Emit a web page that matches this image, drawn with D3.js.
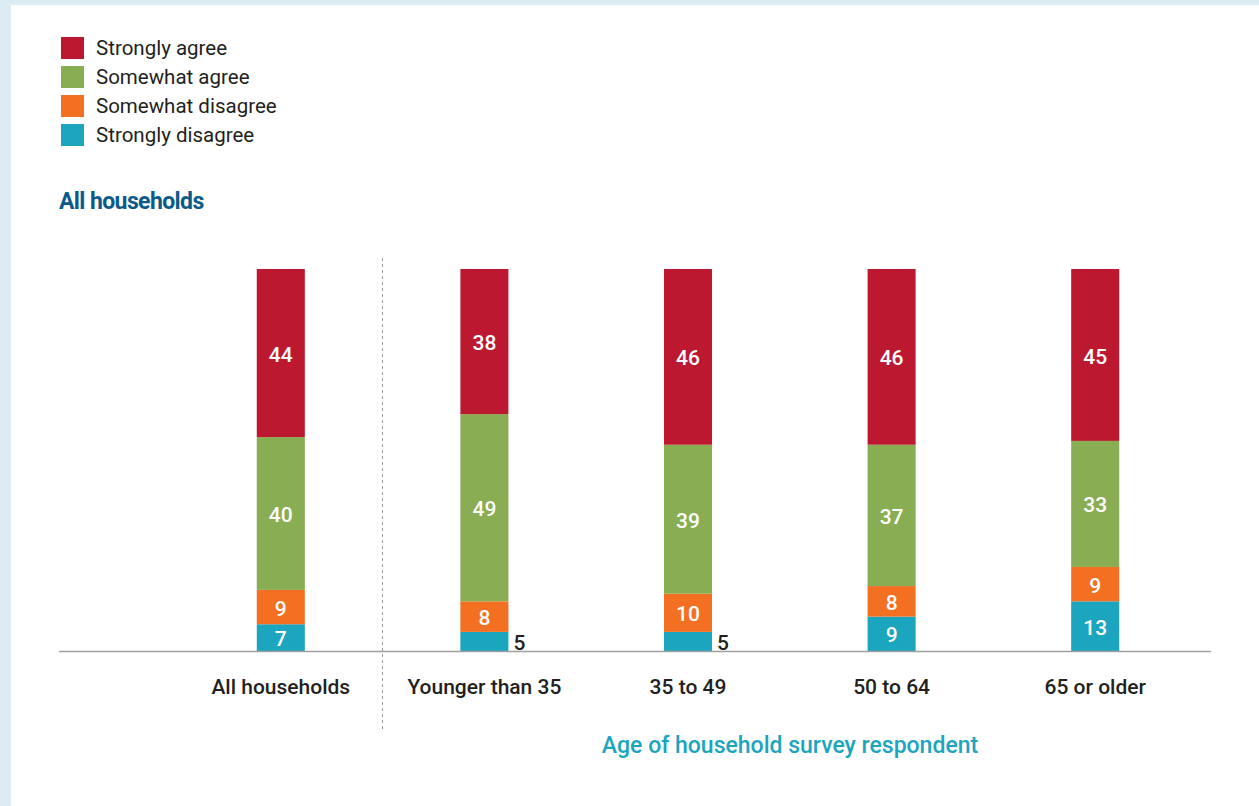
<!DOCTYPE html>
<html>
<head>
<meta charset="utf-8">
<script src="https://cdn.jsdelivr.net/npm/d3@7/dist/d3.min.js"></script>
<style>
  html, body { margin: 0; padding: 0; background: #ffffff; }
  svg { display: block; }
  text { font-family: Roboto, "Noto Sans", sans-serif; }
</style>
</head>
<body>
<svg id="chart" width="1259" height="806"></svg>
<script>
// Survey response shares (%) by group
const categories = ["All households", "Younger than 35", "35 to 49", "50 to 64", "65 or older"];
const seriesNames = ["Strongly disagree", "Somewhat disagree", "Somewhat agree", "Strongly agree"];
const stronglyDisagree = [7, 5, 5, 9, 13];
const somewhatDisagree = [9, 8, 10, 8, 9];
const somewhatAgree = [40, 49, 39, 37, 33];
const stronglyAgree = [44, 38, 46, 46, 45];
const legendOrder = ["Strongly agree", "Somewhat agree", "Somewhat disagree", "Strongly disagree"];
const colors = {
  "Strongly agree": "#bc1931",
  "Somewhat agree": "#88ad52",
  "Somewhat disagree": "#f37022",
  "Strongly disagree": "#1ba5be"
};

const rows = categories.map((c, i) => ({
  category: c,
  "Strongly disagree": stronglyDisagree[i],
  "Somewhat disagree": somewhatDisagree[i],
  "Somewhat agree": somewhatAgree[i],
  "Strongly agree": stronglyAgree[i]
}));

const svg = d3.select("#chart");
const W = 1259, H = 806;

// light frame along top and left edges
svg.append("rect").attr("x", 0).attr("y", 0).attr("width", W).attr("height", H).attr("fill", "#ddecf2");
svg.append("rect").attr("x", 11).attr("y", 5).attr("width", W - 11).attr("height", H - 5).attr("fill", "#ffffff");

// legend
const legend = svg.append("g").attr("transform", "translate(61,37)");
legendOrder.forEach((name, i) => {
  const g = legend.append("g").attr("transform", `translate(0,${i * 29})`);
  g.append("rect").attr("width", 23).attr("height", 22).attr("fill", colors[name]);
  g.append("text").attr("x", 35).attr("y", 11).attr("dy", "0.36em")
    .style("font-size", "20.5px").style("fill", "#231f20")
    .text(name);
});

// section heading
svg.append("text").attr("x", 59).attr("y", 209)
  .style("font-size", "23px").style("font-weight", "bold").style("fill", "#0c5a8a")
  .style("letter-spacing", "-0.6px")
  .text("All households");

// scales
const baseY = 651, topY = 269;
const y = d3.scaleLinear().domain([0, 100]).range([baseY, topY]);
const x = d3.scaleBand().domain(categories).range([179, 1197]).paddingInner(0.764).paddingOuter(0.382);

const stacked = d3.stack().keys(seriesNames)(rows);

// bars
const layers = svg.append("g").selectAll("g").data(stacked).join("g")
  .attr("fill", d => colors[d.key]);
layers.selectAll("rect").data(d => d).join("rect")
  .attr("x", d => x(d.data.category))
  .attr("y", d => y(d[1]))
  .attr("width", x.bandwidth())
  .attr("height", d => y(d[0]) - y(d[1]));

// value labels: inside the segment, or beside the bar when the segment is thin
const labelG = svg.append("g");
stacked.forEach(layer => {
  layer.forEach(d => {
    const v = d[1] - d[0];
    const inside = v > 5;
    labelG.append("text")
      .attr("x", inside ? x(d.data.category) + x.bandwidth() / 2 : x(d.data.category) + x.bandwidth() + 5)
      .attr("y", (y(d[0]) + y(d[1])) / 2 + 1)
      .attr("dy", "0.36em")
      .attr("text-anchor", inside ? "middle" : "start")
      .style("font-size", "21px").style("font-weight", "500")
      .style("fill", inside ? "#ffffff" : "#231f20")
      .text(v);
  });
});

// category axis
const axisG = svg.append("g").attr("transform", `translate(0,${baseY})`)
  .call(d3.axisBottom(x).tickSize(0).tickPadding(0));
axisG.select(".domain").remove();
axisG.selectAll(".tick text")
  .attr("y", 35).attr("dy", "0.36em")
  .style("font-family", "Roboto, sans-serif")
  .style("font-size", "21px").style("font-weight", "500").style("fill", "#231f20");
svg.append("line").attr("x1", 59).attr("x2", 1211).attr("y1", baseY + 0.5).attr("y2", baseY + 0.5)
  .attr("stroke", "#a0a0a0").attr("stroke-width", 1.5);

// divider between total and age groups
svg.append("line").attr("x1", 382.5).attr("x2", 382.5).attr("y1", 258).attr("y2", 729)
  .attr("stroke", "#9a9a9a").attr("stroke-width", 1).attr("stroke-dasharray", "3,3");

// age group axis title
svg.append("text").attr("x", 790).attr("y", 745).attr("dy", "0.36em")
  .attr("text-anchor", "middle")
  .style("font-size", "23px").style("font-weight", "500").style("fill", "#1ba5be")
  .text("Age of household survey respondent");
</script>
</body>
</html>
